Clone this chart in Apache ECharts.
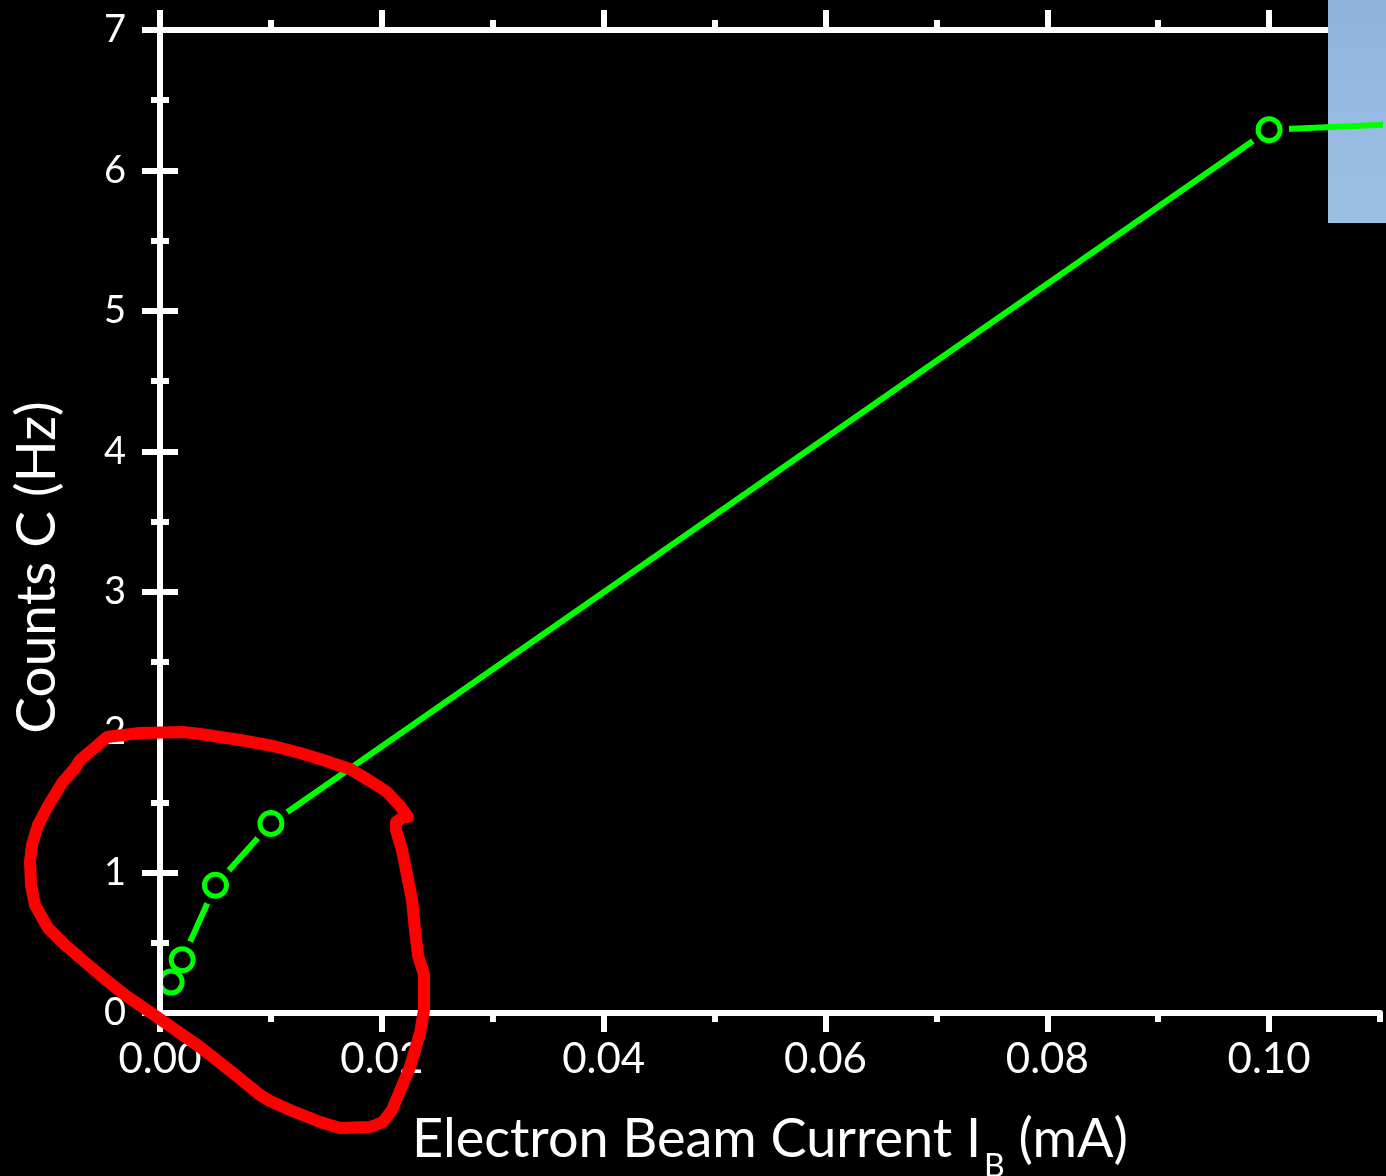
<!DOCTYPE html>
<html><head><meta charset="utf-8">
<script src="https://cdn.jsdelivr.net/npm/echarts@6/dist/echarts.min.js"></script>
<style>html,body{margin:0;padding:0;background:#000}#c{width:1386px;height:1176px}</style>
</head><body><div id="c"></div>
<script>
// ---- data ----
const beamCurrent = [0.001, 0.002, 0.005, 0.010, 0.100, 0.120];
const counts      = [0.22, 0.38, 0.91, 1.35, 6.29, 6.36];
const xMajorTicks = [0, 0.02, 0.04, 0.06, 0.08, 0.10];
const xMinorTicks = [0.01, 0.03, 0.05, 0.07, 0.09, 0.11];
const yRange = [0, 7];
const xRange = [0, 0.11];
const xTitleMain = 'Electron Beam Current I';
const xTitleSub = 'B';
const xTitleUnit = ' (mA)';
const yTitle = 'Counts C (Hz)';

const points = beamCurrent.map((x, i) => [x, counts[i]]);
const FONT = 'Lato';
const WHITE = '#ffffff';
const GREEN = '#00ff00';

const axLine = { show: true, lineStyle: { color: WHITE, width: 6 } };
function xAx(pos, ticks, len, opts) {
  return Object.assign({
    type: 'value', position: pos, min: xRange[0], max: xRange[1], gridIndex: 0,
    axisLine: axLine,
    axisTick: { show: true, inside: false, length: len, customValues: ticks, lineStyle: { color: WHITE, width: 6 } },
    axisLabel: { show: false },
    splitLine: { show: false }, z: 1
  }, opts || {});
}

const chart = echarts.init(document.getElementById('c'), null, { renderer: 'canvas' });
chart.setOption({
  backgroundColor: '#000',
  animation: false,
  grid: { left: 160, right: 6, top: 30, bottom: 163, containLabel: false, outerBoundsMode: 'none' },
  xAxis: [
    xAx('bottom', xMajorTicks, 19, {
      axisLabel: { show: true, customValues: xMajorTicks, color: WHITE, fontFamily: FONT, fontSize: 42, margin: 25,
                   formatter: v => v.toFixed(2) },
      name: `{m|${xTitleMain}}{s|${xTitleSub}}{m|${xTitleUnit}}`,
      nameLocation: 'middle', nameGap: 100,
      nameTextStyle: {
        color: WHITE, fontFamily: FONT, fontSize: 54,
        rich: {
          m: { color: WHITE, fontFamily: FONT, fontSize: 54, lineHeight: 54, verticalAlign: 'top' },
          s: { color: WHITE, fontFamily: FONT, fontSize: 32, lineHeight: 32, verticalAlign: 'top', padding: [38, 0, 0, 3] }
        }
      }
    }),
    xAx('bottom', xMinorTicks, 9, { axisLine: { show: false } }),
    xAx('top', xMajorTicks, 20),
    xAx('top', xMinorTicks, 10, { axisLine: { show: false } })
  ],
  yAxis: [
    {
      type: 'value', position: 'left', min: yRange[0], max: yRange[1], interval: 1,
      axisLine: axLine,
      axisTick: { show: true, length: 18, lineStyle: { color: WHITE, width: 6 } },
      minorTick: { show: true, splitNumber: 2, length: 9, lineStyle: { color: WHITE, width: 6 } },
      axisLabel: { color: WHITE, fontFamily: FONT, fontSize: 38, margin: 34, padding: [0, 0, 18, 0] },
      splitLine: { show: false }, minorSplitLine: { show: false },
      name: yTitle, nameLocation: 'middle', nameRotate: 90, nameGap: 95,
      nameTextStyle: { color: WHITE, fontFamily: FONT, fontSize: 55, padding: [0, 92, 0, 0] },
      z: 1
    },
    {
      type: 'value', position: 'right', min: yRange[0], max: yRange[1], interval: 1,
      axisLine: axLine,
      axisTick: { show: true, length: 18, lineStyle: { color: WHITE, width: 6 } },
      minorTick: { show: true, splitNumber: 2, length: 9, lineStyle: { color: WHITE, width: 6 } },
      axisLabel: { show: false },
      splitLine: { show: false }, minorSplitLine: { show: false },
      z: 6
    }
  ],
  series: [
    { type: 'line', data: points, showSymbol: false, symbol: 'none', clip: true, silent: true,
      lineStyle: { color: GREEN, width: 6 }, z: 3 },
    { type: 'scatter', data: points.filter((p, i) => i > 0), symbol: 'circle', symbolSize: 40, clip: true, silent: true,
      itemStyle: { color: '#000', opacity: 1 }, z: 4 },
    { type: 'scatter', data: points, symbol: 'circle', symbolSize: 22, clip: true, silent: true,
      itemStyle: { color: '#000', borderColor: GREEN, borderWidth: 5, opacity: 1 }, z: 5 }
  ],
  graphic: [
    { type: 'rect', z: 2, silent: true,
      shape: { x: 1328, y: 0, width: 60, height: 223 },
      style: { fill: new echarts.graphic.LinearGradient(0, 0, 0, 1, [{ offset: 0, color: '#8fb3db' }, { offset: 1, color: '#9cc0e5' }]) } },
    { type: 'polyline', z: 100, silent: true,
      shape: { points: [
        [408,817],[400,806],[387,792],[370,781],[350,769],[323,760],[300,753],[273,746],[240,740],[200,734],
        [183,732],[140,733],[107,737],[92,750],[80,760],[75,768],[62,783],[48,806],[38,825],[32,845],
        [30,862],[31,885],[35,905],[48,928],[65,945],[85,962],[100,975],[125,995],[157,1017],[200,1047],
        [233,1073],[260,1095],[270,1101],[290,1110],[320,1122],[340,1128],[370,1127],[383,1122],[392,1110],
        [410,1067],[420,1033],[424,1010],[424,975],[418,955],[415,930],[412,900],[407,875],[402,850],
        [396,830],[396,822],[405,816]
      ] },
      style: { stroke: '#ff0000', lineWidth: 12, fill: null, lineJoin: 'round', lineCap: 'round' } }
  ]
});
</script>
</body></html>
